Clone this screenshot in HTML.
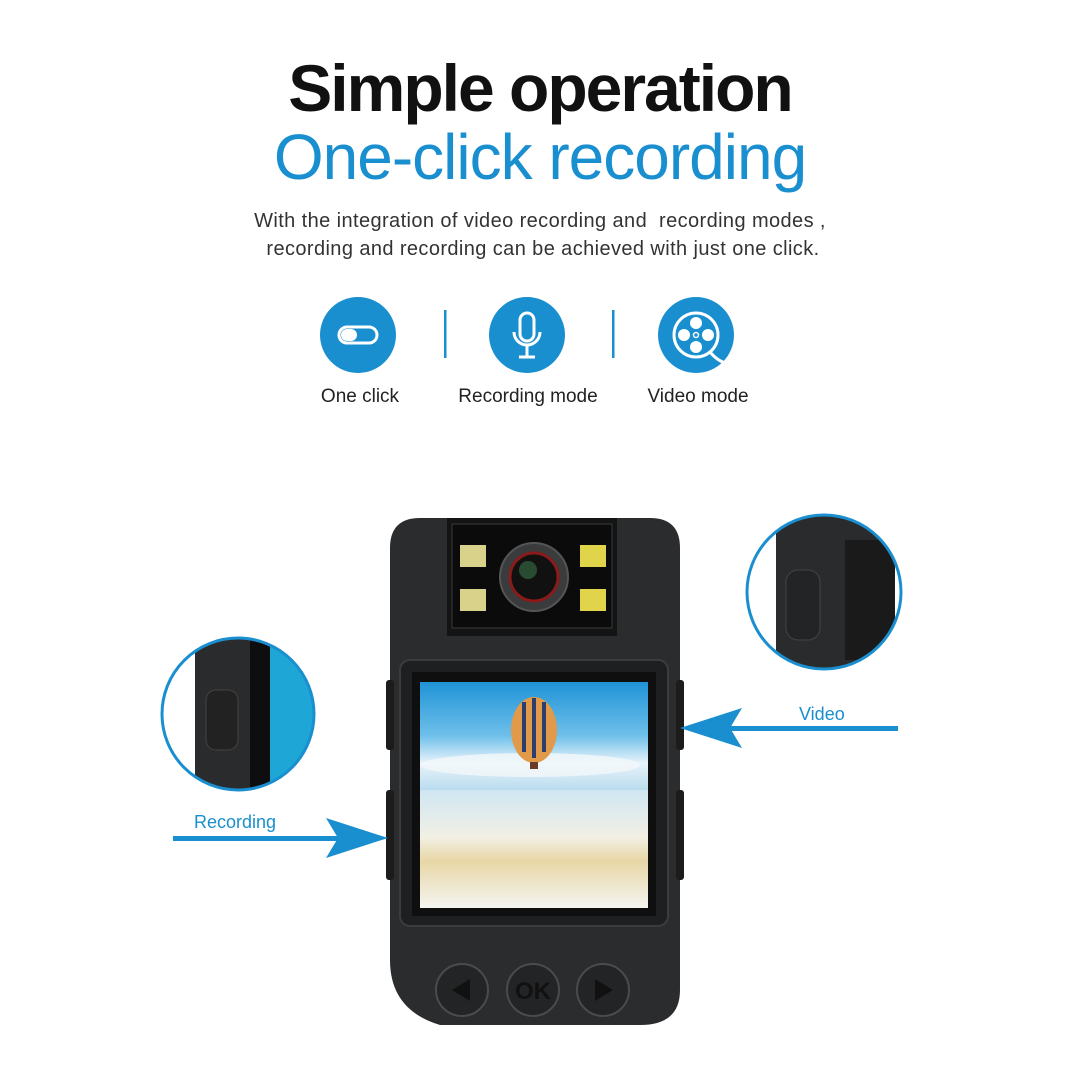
<!DOCTYPE html>
<html><head><meta charset="utf-8"><style>
body{margin:0;width:1080px;height:1080px;background:#fff;position:relative;overflow:hidden;font-family:"Liberation Sans","DejaVu Sans",sans-serif}
.t{position:absolute;left:0;width:1080px;text-align:center}
</style></head><body>
<div class="t" style="top:50px;font-size:66px;font-weight:bold;color:#111;letter-spacing:-2px">Simple operation</div>
<div class="t" style="top:120px;font-size:64px;color:#1a8fd0;letter-spacing:-1px">One-click recording</div>
<div class="t" style="top:207px;font-size:20px;color:#333;line-height:28px;letter-spacing:0.4px">With the integration of video recording and&nbsp; recording modes ,<br>&nbsp;recording and recording can be achieved with just one click.</div>
<svg width="1080" height="1080" style="position:absolute;left:0;top:0">
<defs>
<linearGradient id="sky" x1="0" y1="0" x2="0" y2="1"><stop offset="0" stop-color="#1f93d6"/><stop offset="0.5" stop-color="#6fc0ea"/><stop offset="0.75" stop-color="#e8f3fa"/><stop offset="1" stop-color="#b9dcee"/></linearGradient>
<linearGradient id="sand" x1="0" y1="0" x2="0" y2="1"><stop offset="0" stop-color="#cfe6f3"/><stop offset="0.4" stop-color="#f2f0e4"/><stop offset="0.6" stop-color="#e8d7a6"/><stop offset="1" stop-color="#f4f4f0"/></linearGradient>
<clipPath id="cl"><circle cx="238" cy="714" r="75"/></clipPath>
<clipPath id="cr"><circle cx="824" cy="592" r="76"/></clipPath>
</defs>
<g fill="#1a8fd0">
<circle cx="358" cy="335" r="38"/><circle cx="527" cy="335" r="38"/><circle cx="696" cy="335" r="38"/>
<rect x="444" y="310" width="2.5" height="48"/><rect x="612" y="310" width="2.5" height="48"/>
</g>
<g stroke="#fff" fill="none" stroke-width="3">
<rect x="339" y="327" width="38" height="16" rx="8"/>
<rect x="520" y="313" width="14" height="28" rx="7"/><path d="M514 332a13 13 0 0 0 26 0M527 345v12M519 357h16"/>
<circle cx="696" cy="335" r="22"/><path d="M710 352q10 12 22 12"/>
</g>
<rect x="341" y="329" width="16" height="12" rx="6" fill="#fff"/>
<g fill="#fff"><circle cx="696" cy="323" r="6"/><circle cx="696" cy="347" r="6"/><circle cx="684" cy="335" r="6"/><circle cx="708" cy="335" r="6"/></g>
<circle cx="696" cy="335" r="2.5" fill="none" stroke="#fff" stroke-width="1.5"/>
<g font-size="19" fill="#222" text-anchor="middle">
<text x="360" y="402">One click</text><text x="528" y="402">Recording mode</text><text x="698" y="402">Video mode</text></g>
<path d="M420 518H650Q680 518 680 548V990Q680 1025 640 1025H440Q390 1010 390 960V548Q390 518 420 518Z" fill="#2b2c2e"/>
<rect x="386" y="680" width="8" height="70" rx="3" fill="#1c1c1d"/><rect x="386" y="790" width="8" height="90" rx="3" fill="#1c1c1d"/>
<rect x="676" y="680" width="8" height="70" rx="3" fill="#1c1c1d"/><rect x="676" y="790" width="8" height="90" rx="3" fill="#1c1c1d"/>
<rect x="447" y="518" width="170" height="118" fill="#141415"/>
<rect x="452" y="524" width="160" height="104" fill="#0b0b0c" stroke="#3a3a3c"/>
<rect x="460" y="545" width="26" height="22" fill="#d9d28a"/><rect x="460" y="589" width="26" height="22" fill="#d9d28a"/>
<rect x="580" y="545" width="26" height="22" fill="#e0d54a"/><rect x="580" y="589" width="26" height="22" fill="#e0d54a"/>
<circle cx="534" cy="577" r="34" fill="#3a3b3d" stroke="#555" stroke-width="2"/>
<circle cx="534" cy="577" r="24" fill="#111" stroke="#8b1a1a" stroke-width="3"/>
<circle cx="528" cy="570" r="9" fill="#2f5a3a" opacity=".8"/>
<rect x="400" y="660" width="268" height="266" rx="10" fill="#1e1f20" stroke="#3b3c3e" stroke-width="2"/>
<rect x="412" y="672" width="244" height="244" fill="#0f0f10"/>
<rect x="420" y="682" width="228" height="108" fill="url(#sky)"/>
<rect x="420" y="790" width="228" height="118" fill="url(#sand)"/>
<ellipse cx="530" cy="765" rx="110" ry="12" fill="#f3f7fa" opacity=".8"/>
<ellipse cx="534" cy="730" rx="23" ry="33" fill="#e09a4a"/>
<path d="M524 702v50M534 698v60M544 702v50" stroke="#2b3e6e" stroke-width="4"/>
<rect x="530" y="762" width="8" height="7" fill="#6b3b2a"/>
<g fill="#232425" stroke="#4a4b4d" stroke-width="2">
<circle cx="462" cy="990" r="26"/><circle cx="533" cy="990" r="26"/><circle cx="603" cy="990" r="26"/></g>
<path d="M452 990l18-11v22z" fill="#111"/><path d="M613 990l-18-11v22z" fill="#111"/>
<text x="533" y="999" font-size="24" text-anchor="middle" fill="#111" font-weight="bold">OK</text>
<g clip-path="url(#cl)"><rect x="160" y="636" width="160" height="160" fill="#fff"/>
<rect x="195" y="636" width="70" height="160" fill="#2a2b2d"/><rect x="250" y="636" width="22" height="160" fill="#0e0e0f"/>
<rect x="270" y="636" width="50" height="160" fill="#1ea6d6"/><rect x="206" y="690" width="32" height="60" rx="10" fill="#222" stroke="#444"/></g>
<circle cx="238" cy="714" r="76" fill="none" stroke="#1a8fd0" stroke-width="3"/>
<g clip-path="url(#cr)"><rect x="746" y="514" width="160" height="160" fill="#fff"/>
<rect x="776" y="514" width="110" height="160" fill="#2a2b2d"/><rect x="845" y="540" width="50" height="120" fill="#1a1a1b"/>
<rect x="786" y="570" width="34" height="70" rx="12" fill="#232425" stroke="#444"/></g>
<circle cx="824" cy="592" r="77" fill="none" stroke="#1a8fd0" stroke-width="3"/>
<rect x="720" y="726" width="178" height="5" fill="#1a8fd0"/><path d="M680 728l62-20-12 20 12 20z" fill="#1a8fd0"/>
<rect x="173" y="836" width="175" height="5" fill="#1a8fd0"/><path d="M388 838l-62-20 12 20-12 20z" fill="#1a8fd0"/>
<g font-size="18" fill="#1a8fd0"><text x="799" y="720">Video</text><text x="194" y="828">Recording</text></g>
</svg>
</body></html>
